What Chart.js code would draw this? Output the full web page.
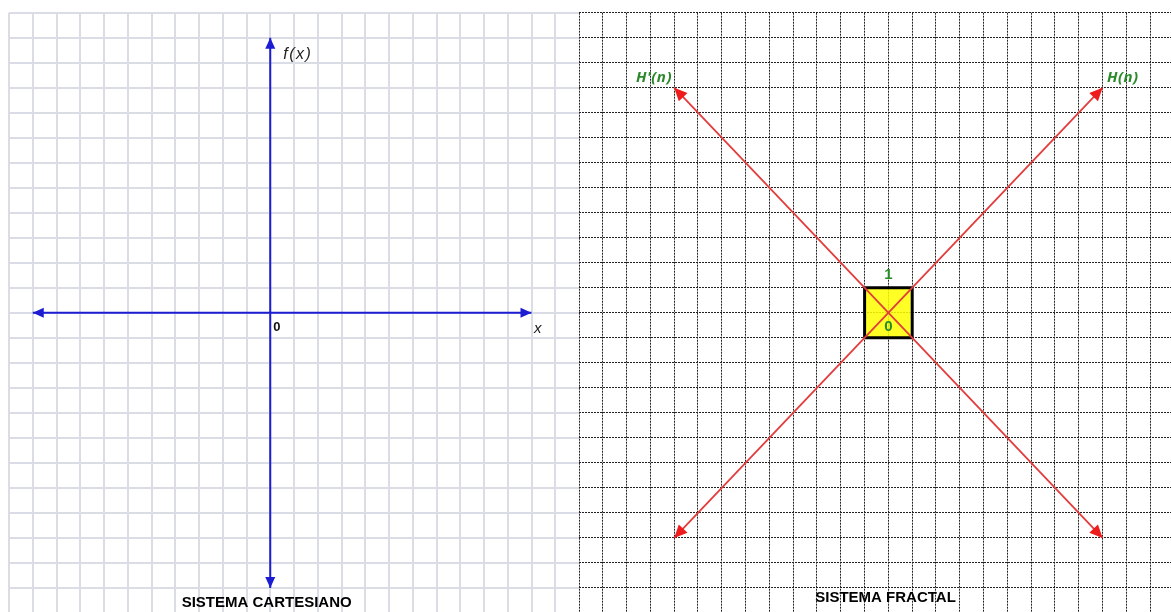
<!DOCTYPE html>
<html><head><meta charset="utf-8">
<script src="https://cdn.jsdelivr.net/npm/chart.js@4.4.1/dist/chart.umd.min.js"></script>
<style>
html,body{margin:0;padding:0;background:#fff;overflow:hidden;width:1171px;height:612px;}
#cart{position:absolute;left:0;top:0;}
#frac{position:absolute;left:578px;top:0;}
</style></head><body>
<canvas id="cart" width="579" height="613"></canvas>
<canvas id="frac" width="593" height="613"></canvas>
<script>
// ---------- data: Cartesian system ----------
const cartesianRangeX = [-11, 13];
const cartesianRangeY = [-12, 12];
const horizontalAxisX = [-10, 11];
const horizontalAxisY = [0, 0];
const verticalAxisX = [0, 0];
const verticalAxisY = [11, -11];
const cartesianLabels = ['f(x)', '0', 'x', 'SISTEMA CARTESIANO'];

// ---------- data: fractal system ----------
const fractalRangeX = [-13, 11.874];
const fractalRangeY = [-12, 12];
const risingDiagonalX = [-9, 9];
const risingDiagonalY = [-9, 9];
const fallingDiagonalX = [-9, 9];
const fallingDiagonalY = [9, -9];
const unitSquareX = [-1, 1, 1, -1, -1];
const unitSquareY = [-1, -1, 1, 1, -1];
const fractalLabels = ["H'(n)", 'H(n)', '1', '0', 'SISTEMA FRACTAL'];

// ---------- helpers ----------
const pts = (xs, ys) => xs.map((x, i) => ({x, y: ys[i]}));

const cartesianLabelPlacement = [
  {x: 0.55, y: 10.32, align: 'left', font: 'italic 16px "Liberation Sans"', color: '#222', spacing: '1.5px'},
  {x: 0.13, y: -0.6, align: 'left', font: 'bold 13px "Liberation Sans"', color: '#111'},
  {x: 11.1, y: -0.62, align: 'left', font: 'italic 15px "Liberation Sans"', color: '#222'},
  {x: -0.15, y: -11.6, align: 'center', font: 'bold 15px "Liberation Sans"', color: '#000'}
];
const fractalLabelPlacement = [
  {x: -9.85, y: 9.38, align: 'center', font: 'italic bold 15px "Open Sans"', color: '#2a8a2a', spacing: '0.5px'},
  {x: 9.85, y: 9.4, align: 'center', font: 'italic bold 15px "Open Sans"', color: '#2a8a2a', spacing: '0.5px'},
  {x: 0, y: 1.5, align: 'center', font: 'bold 15px "Liberation Sans"', color: '#2a8a2a'},
  {x: 0, y: -0.55, align: 'center', font: 'bold 15px "Liberation Sans"', color: '#2a8a2a'},
  {x: -0.12, y: -11.4, align: 'center', font: 'bold 15px "Liberation Sans"', color: '#000'}
];

const arrowPlugin = {
  id: 'arrowHeads',
  afterDatasetsDraw(chart) {
    const ctx = chart.ctx;
    chart.data.datasets.forEach((ds, i) => {
      if (!ds.arrowEnds) return;
      const pts = chart.getDatasetMeta(i).data;
      const n = pts.length;
      const heads = [[pts[0], pts[1]], [pts[n - 1], pts[n - 2]]];
      const L = ds.arrowLength, W = ds.arrowHalfWidth;
      ctx.save();
      ctx.fillStyle = ds.arrowColor || ds.borderColor;
      heads.forEach(([tip, from]) => {
        const dx = tip.x - from.x, dy = tip.y - from.y;
        const len = Math.hypot(dx, dy);
        const ux = dx / len, uy = dy / len;
        const bx = tip.x - ux * L, by = tip.y - uy * L;
        ctx.beginPath();
        ctx.moveTo(tip.x, tip.y);
        ctx.lineTo(bx - uy * W, by + ux * W);
        ctx.lineTo(bx + uy * W, by - ux * W);
        ctx.closePath();
        ctx.fill();
      });
      ctx.restore();
    });
  }
};

const textPlugin = {
  id: 'textMarks',
  afterDraw(chart, args, opts) {
    const ctx = chart.ctx;
    const sx = chart.scales.x, sy = chart.scales.y;
    ctx.save();
    ctx.textBaseline = 'middle';
    opts.texts.forEach((t, i) => {
      const p = opts.placement[i];
      ctx.font = p.font;
      ctx.fillStyle = p.color;
      ctx.textAlign = p.align;
      ctx.letterSpacing = p.spacing || '0px';
      ctx.fillText(t, sx.getPixelForValue(p.x), sy.getPixelForValue(p.y));
    });
    ctx.restore();
  }
};

function axisOpts(range, grid, dash, hideMax, includeBounds) {
  return {
    type: 'linear', min: range[0], max: range[1],
    ticks: {display: false, stepSize: 1, maxTicksLimit: 100, autoSkip: false, includeBounds: includeBounds},
    grid: {
      drawTicks: false, lineWidth: grid.width,
      color: (c) => (hideMax && c.tick && c.tick.value === range[1]) ? 'rgba(0,0,0,0)' : grid.color
    },
    border: {display: false, dash: dash},
    afterFit: (s) => { if (s.isHorizontal()) s.height = 0; else s.width = 0; }
  };
}

const common = {
  responsive: false, animation: false, events: [],
  plugins: {legend: {display: false}, tooltip: {enabled: false}, title: {display: false}}
};

new Chart(document.getElementById('cart'), {
  type: 'scatter',
  data: {datasets: [
    {data: pts(horizontalAxisX, horizontalAxisY), showLine: true, borderColor: '#1c1cd2', borderWidth: 2,
     pointRadius: 0, arrowEnds: true, arrowLength: 11, arrowHalfWidth: 5},
    {data: pts(verticalAxisX, verticalAxisY), showLine: true, borderColor: '#1c1cd2', borderWidth: 2,
     pointRadius: 0, arrowEnds: true, arrowLength: 11, arrowHalfWidth: 5}
  ]},
  options: Object.assign({}, common, {
    layout: {padding: {left: 9, top: 12.7, right: 0, bottom: 0}},
    scales: {
      x: axisOpts(cartesianRangeX, {color: '#dadde6', width: 2}, [], true, true),
      y: axisOpts(cartesianRangeY, {color: '#dadde6', width: 2}, [], false, true)
    },
    plugins: Object.assign({}, common.plugins, {
      textMarks: {texts: cartesianLabels, placement: cartesianLabelPlacement}
    })
  }),
  plugins: [arrowPlugin, textPlugin]
});

new Chart(document.getElementById('frac'), {
  type: 'scatter',
  data: {datasets: [
    {data: pts(risingDiagonalX, risingDiagonalY), showLine: true, borderColor: '#e23c3c', borderWidth: 1.8,
     arrowColor: '#ee1c1c', pointRadius: 0, order: 0, arrowEnds: true, arrowLength: 13, arrowHalfWidth: 6},
    {data: pts(fallingDiagonalX, fallingDiagonalY), showLine: true, borderColor: '#e23c3c', borderWidth: 1.8,
     arrowColor: '#ee1c1c', pointRadius: 0, order: 0, arrowEnds: true, arrowLength: 13, arrowHalfWidth: 6},
    {data: pts(unitSquareX, unitSquareY), showLine: true, borderColor: '#000', borderWidth: 3,
     backgroundColor: 'rgba(255,255,0,0.85)', fill: 'shape', pointRadius: 0, order: 1, tension: 0}
  ]},
  options: Object.assign({}, common, {
    layout: {padding: {left: 1, top: 12.7, right: 0, bottom: 0}},
    scales: {
      x: axisOpts(fractalRangeX, {color: '#222', width: 1}, [2, 1], false, false),
      y: axisOpts(fractalRangeY, {color: '#222', width: 1}, [2, 1], false, true)
    },
    plugins: Object.assign({}, common.plugins, {
      textMarks: {texts: fractalLabels, placement: fractalLabelPlacement}
    })
  }),
  plugins: [arrowPlugin, textPlugin]
});
</script>
</body></html>
